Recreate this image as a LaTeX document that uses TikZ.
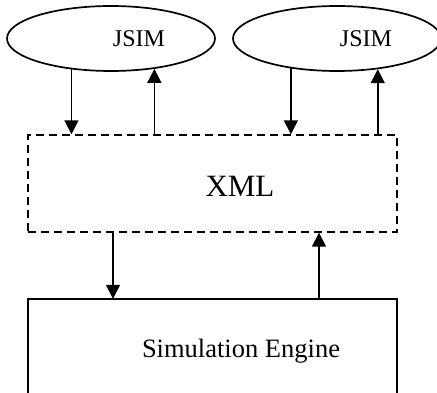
\documentclass[tikz,border=0pt]{standalone}
\usepackage{fontspec}
\setmainfont{Liberation Serif}
\usetikzlibrary{shapes.geometric,arrows.meta}

\tikzset{
  client/.style={ellipse, draw, line width=1.7pt, minimum width=208pt,
                 minimum height=65pt, inner sep=0pt},
  layer/.style={rectangle, draw, line width=1.4pt, dash pattern=on 8pt off 5pt,
                minimum width=369pt, minimum height=97pt, inner sep=0pt},
  engine/.style={rectangle, minimum width=369pt, minimum height=120pt, inner sep=0pt},
  frame/.style={line width=1.7pt},
  arr/.style={-{Triangle[length=14pt,width=14pt]}, line width=1.6pt},
  lbl/.style={anchor=base, inner sep=0pt}
}

\begin{document}
\begin{tikzpicture}[x=1pt,y=1pt]
  \useasboundingbox (0,0) rectangle (437,-393);

  % two JSIM clients
  \node[client] (j1) at (111,-38.5) {};
  \node[client] (j2) at (337,-38.5) {};
  \node[lbl, font=\fontsize{24}{28}\selectfont] (t1) at (139,-47) {JSIM};
  \node[lbl, font=\fontsize{24}{28}\selectfont] (t2) at (366,-47) {JSIM};

  % XML exchange layer
  \node[layer] (xml) at (212.5,-183.5) {};
  \node[lbl, font=\fontsize{31}{36}\selectfont] (tx) at (240,-197) {XML};

  % simulation engine (open at the bottom)
  \node[engine] (sim) at (212.5,-359) {};
  \draw[frame] (sim.south west) |- (sim.north east) -- (sim.south east);
  \node[lbl, font=\fontsize{26.5}{30}\selectfont] (ts) at (241,-357) {Simulation Engine};

  % x positions of the vertical connectors
  \coordinate (a1) at (113,0);
  \coordinate (a2) at (319,0);

  % clients <-> XML
  \draw[arr] (j1.218.6) -- (j1.218.6 |- xml.north);
  \draw[arr] (j1.325.5 |- xml.north) -- (j1.325.5);
  \draw[arr] (j2.213.75) -- (j2.213.75 |- xml.north);
  \draw[arr] (j2.323.9 |- xml.north) -- (j2.323.9);

  % XML <-> engine
  \draw[arr] (xml.south -| a1) -- (sim.north -| a1);
  \draw[arr] (sim.north -| a2) -- (xml.south -| a2);
\end{tikzpicture}
\end{document}
